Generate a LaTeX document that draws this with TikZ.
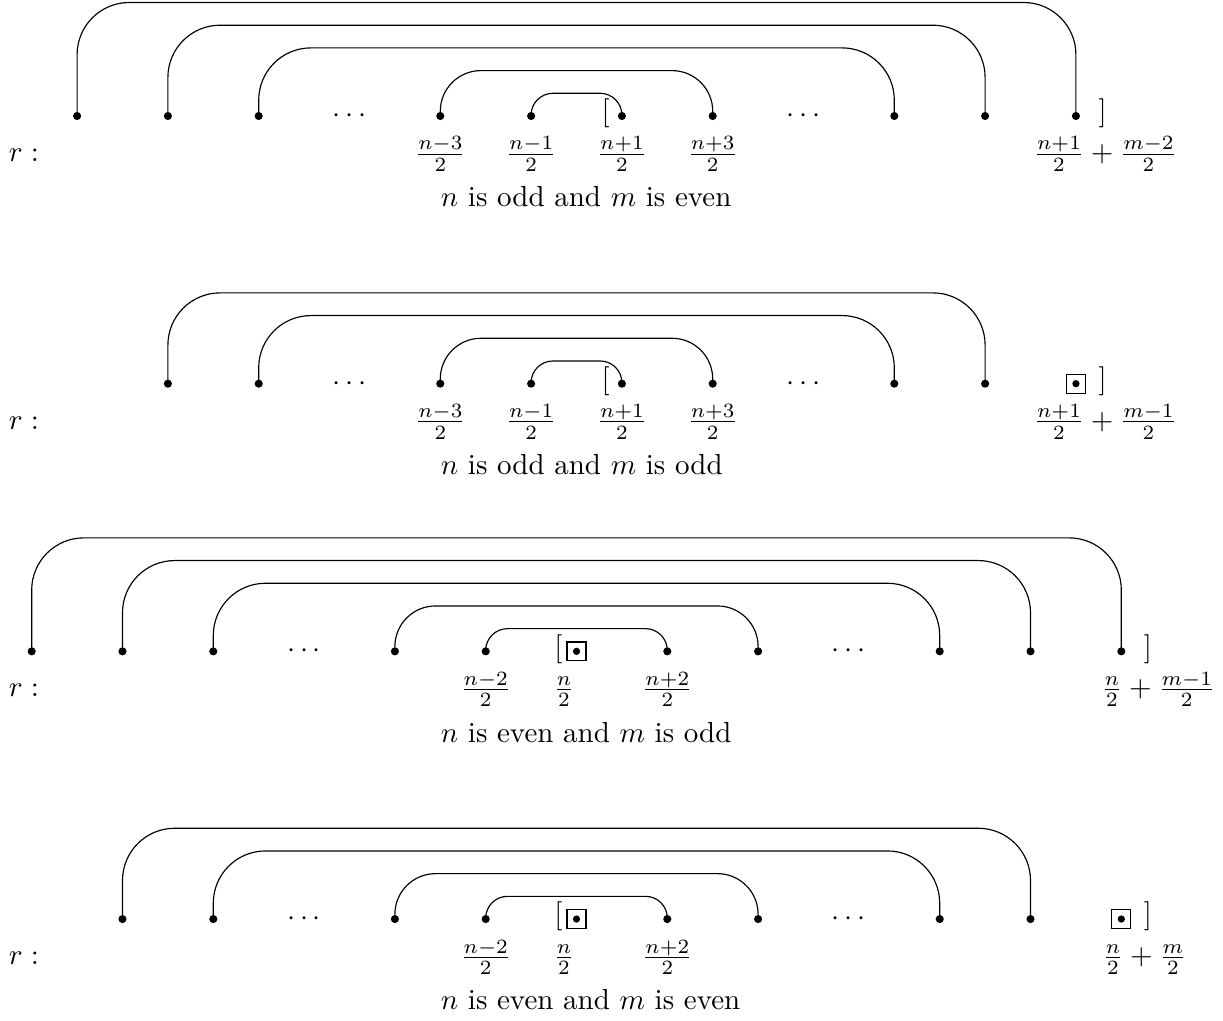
\documentclass[tikz,border=0pt]{standalone}
\tikzset{
  pt/.style={circle, fill, inner sep=0pt, minimum size=2.8pt},
  boxpt/.style={draw, rectangle, inner sep=0pt, minimum size=6.5pt,
    path picture={\fill (path picture bounding box.center) circle (1.25pt);}},
  link/.style={rounded corners=#1},
  link/.default=18pt,
  lab/.style={anchor=base, inner sep=0pt},
  brk/.style={inner sep=0pt},
  gap/.style={inner sep=0pt},
  caption/.style={anchor=base west, inner sep=0pt}
}
\newcommand{\pairarc}[4][18pt]{\draw[link=#1] (#2.center) -- ++(0,#4) -| (#3.center);}

\begin{document}
\begin{tikzpicture}[x=1.1cm,y=1.1cm]
  \useasboundingbox (0,0) rectangle (13.469,-11.244);

  % n odd, m even
  \begin{scope}[shift={(6.349,-1.2775)}]
    \foreach \i/\x in {1/-5.5,2/-4.5,3/-3.5,4/-1.5,5/-0.5,6/0.5,7/1.5,8/3.5,9/4.5,10/5.5}
      \node[pt] (a\i) at (\x,0) {};
    \node[gap] (ad1) at (-2.5,0) {$\cdots$};
    \node[gap] (ad2) at (2.5,0) {$\cdots$};
    \node[brk] (aopen) at ([shift={(-5.6pt,0.8pt)}]a6) {$[$};
    \node[brk] (aclose) at ([shift={(9.2pt,0.8pt)}]a10) {$]$};

    \pairarc{a1}{a10}{1.25}
    \pairarc{a2}{a9}{1}
    \pairarc{a3}{a8}{0.75}
    \pairarc[14pt]{a4}{a7}{0.5}
    \pairarc[7.5pt]{a5}{a6}{0.25}

    \node[lab] (ar) at (-6.085,-0.5) {$r:$};
    \node[lab] (an1) at (-1.5,-0.5) {$\frac{n-3}{2}$};
    \node[lab] (an2) at (-0.5,-0.5) {$\frac{n-1}{2}$};
    \node[lab] (an3) at (0.5,-0.5)  {$\frac{n+1}{2}$};
    \node[lab] (an4) at (1.5,-0.5)  {$\frac{n+3}{2}$};
    \node[lab, anchor=base west] (asum) at (5.028,-0.5) {$\frac{n+1}{2}+\frac{m-2}{2}$};
    \node[caption] (acap) at (-1.5,-1) {$n$ is odd and $m$ is even};
  \end{scope}

  % n odd, m odd
  \begin{scope}[shift={(6.349,-4.2255)}]
    \foreach \i/\x in {2/-4.5,3/-3.5,4/-1.5,5/-0.5,6/0.5,7/1.5,8/3.5,9/4.5}
      \node[pt] (b\i) at (\x,0) {};
    \node[boxpt] (bbox) at (5.5,0) {};
    \node[gap] (bd1) at (-2.5,0) {$\cdots$};
    \node[gap] (bd2) at (2.5,0) {$\cdots$};
    \node[brk] (bopen) at ([shift={(-5.6pt,0.8pt)}]b6) {$[$};
    \node[brk] (bclose) at ([shift={(9.2pt,0.8pt)}]bbox) {$]$};

    \pairarc{b2}{b9}{1}
    \pairarc{b3}{b8}{0.75}
    \pairarc[14pt]{b4}{b7}{0.5}
    \pairarc[7.5pt]{b5}{b6}{0.25}

    \node[lab] (br) at (-6.085,-0.5) {$r:$};
    \node[lab] (bn1) at (-1.5,-0.5) {$\frac{n-3}{2}$};
    \node[lab] (bn2) at (-0.5,-0.5) {$\frac{n-1}{2}$};
    \node[lab] (bn3) at (0.5,-0.5)  {$\frac{n+1}{2}$};
    \node[lab] (bn4) at (1.5,-0.5)  {$\frac{n+3}{2}$};
    \node[lab, anchor=base west] (bsum) at (5.028,-0.5) {$\frac{n+1}{2}+\frac{m-1}{2}$};
    \node[caption] (bcap) at (-1.5,-1) {$n$ is odd and $m$ is odd};
  \end{scope}

  % n even, m odd
  \begin{scope}[shift={(6.349,-7.1735)}]
    \foreach \i/\x in {1/-6,2/-5,3/-4,4/-2,5/-1,6/1,7/2,8/4,9/5,10/6}
      \node[pt] (c\i) at (\x,0) {};
    \node[boxpt] (cbox) at (0,0) {};
    \node[gap] (cd1) at (-3,0) {$\cdots$};
    \node[gap] (cd2) at (3,0) {$\cdots$};
    \node[brk] (copen) at ([shift={(-6.2pt,0.8pt)}]cbox) {$[$};
    \node[brk] (cclose) at ([shift={(9.2pt,0.8pt)}]c10) {$]$};

    \pairarc{c1}{c10}{1.25}
    \pairarc{c2}{c9}{1}
    \pairarc{c3}{c8}{0.75}
    \pairarc[14pt]{c4}{c7}{0.5}
    \pairarc[7.5pt]{c5}{c6}{0.25}

    \node[lab] (cr) at (-6.085,-0.5) {$r:$};
    \node[lab] (cn1) at (-1,-0.5)     {$\frac{n-2}{2}$};
    \node[lab] (cn2) at (-0.138,-0.5) {$\frac{n}{2}$};
    \node[lab] (cn3) at (1,-0.5)      {$\frac{n+2}{2}$};
    \node[lab, anchor=base west] (csum) at (5.774,-0.5) {$\frac{n}{2}+\frac{m-1}{2}$};
    \node[caption] (ccap) at (-1.5,-1) {$n$ is even and $m$ is odd};
  \end{scope}

  % n even, m even
  \begin{scope}[shift={(6.349,-10.1215)}]
    \foreach \i/\x in {2/-5,3/-4,4/-2,5/-1,6/1,7/2,8/4,9/5}
      \node[pt] (d\i) at (\x,0) {};
    \node[boxpt] (dbox) at (0,0) {};
    \node[boxpt] (dend) at (6,0) {};
    \node[gap] (dd1) at (-3,0) {$\cdots$};
    \node[gap] (dd2) at (3,0) {$\cdots$};
    \node[brk] (dopen) at ([shift={(-6.2pt,0.8pt)}]dbox) {$[$};
    \node[brk] (dclose) at ([shift={(9.2pt,0.8pt)}]dend) {$]$};

    \pairarc{d2}{d9}{1}
    \pairarc{d3}{d8}{0.75}
    \pairarc[14pt]{d4}{d7}{0.5}
    \pairarc[7.5pt]{d5}{d6}{0.25}

    \node[lab] (dr) at (-6.085,-0.5) {$r:$};
    \node[lab] (dn1) at (-1,-0.5)     {$\frac{n-2}{2}$};
    \node[lab] (dn2) at (-0.138,-0.5) {$\frac{n}{2}$};
    \node[lab] (dn3) at (1,-0.5)      {$\frac{n+2}{2}$};
    \node[lab, anchor=base west] (dsum) at (5.784,-0.5) {$\frac{n}{2}+\frac{m}{2}$};
    \node[caption] (dcap) at (-1.5,-1) {$n$ is even and $m$ is even};
  \end{scope}
\end{tikzpicture}
\end{document}
